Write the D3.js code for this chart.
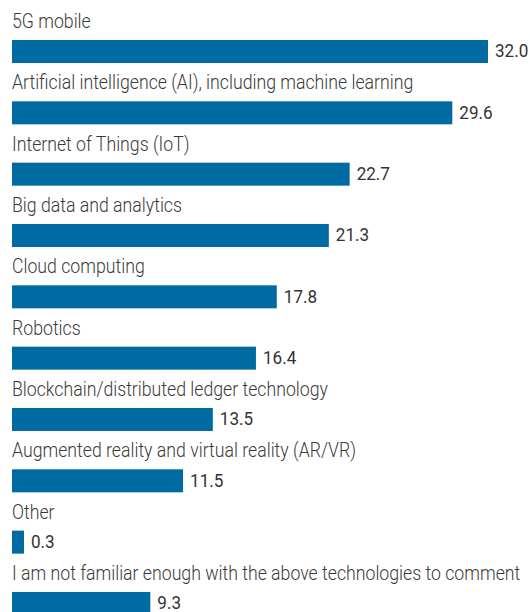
<!DOCTYPE html>
<html><head><meta charset="utf-8">
<script src="https://cdn.jsdelivr.net/npm/d3@7"></script>
<style>html,body{margin:0;padding:0;background:#fff;}svg{display:block;}</style>
</head><body>
<svg id="chart" width="530" height="612"></svg>
<script>
const categories = [
  "5G mobile",
  "Artificial intelligence (AI), including machine learning",
  "Internet of Things (IoT)",
  "Big data and analytics",
  "Cloud computing",
  "Robotics",
  "Blockchain/distributed ledger technology",
  "Augmented reality and virtual reality (AR/VR)",
  "Other",
  "I am not familiar enough with the above technologies to comment"
];
const values = [32.0, 29.6, 22.7, 21.3, 17.8, 16.4, 13.5, 11.5, 0.3, 9.3];

const svg = d3.select("#chart");
const font = "Roboto, 'Noto Sans', sans-serif";
const labelScale = 0.885;
const valueScale = 0.9;
const x = d3.scaleLinear().domain([0, 32]).range([12, 488]);
const y = d3.scaleBand().domain(categories).range([8, 8 + 61.33 * categories.length]).paddingInner(0);

const rows = svg.selectAll("g.row").data(categories.map((c, i) => ({c, v: values[i]})))
  .join("g").attr("class", "row")
  .attr("transform", d => `translate(0,${y(d.c)})`);

rows.append("text")
  .attr("transform", `scale(${labelScale},1)`)
  .attr("x", 12 / labelScale).attr("y", 20)
  .attr("font-family", font).attr("font-size", 20).attr("font-weight", 300)
  .attr("fill", "#3a3a3a")
  .text(d => d.c);

const barW = d => Math.max(x(d.v) - x(0), 12);

rows.append("rect")
  .attr("x", x(0)).attr("y", 32)
  .attr("width", barW)
  .attr("height", 23)
  .attr("fill", "#006ba2");

rows.append("text")
  .attr("transform", `scale(${valueScale},1)`)
  .attr("x", d => (x(0) + barW(d) + 7) / valueScale)
  .attr("y", 49.5)
  .attr("font-family", font).attr("font-size", 19)
  .attr("fill", "#333")
  .text(d => d3.format(".1f")(d.v));
</script>
</body></html>
